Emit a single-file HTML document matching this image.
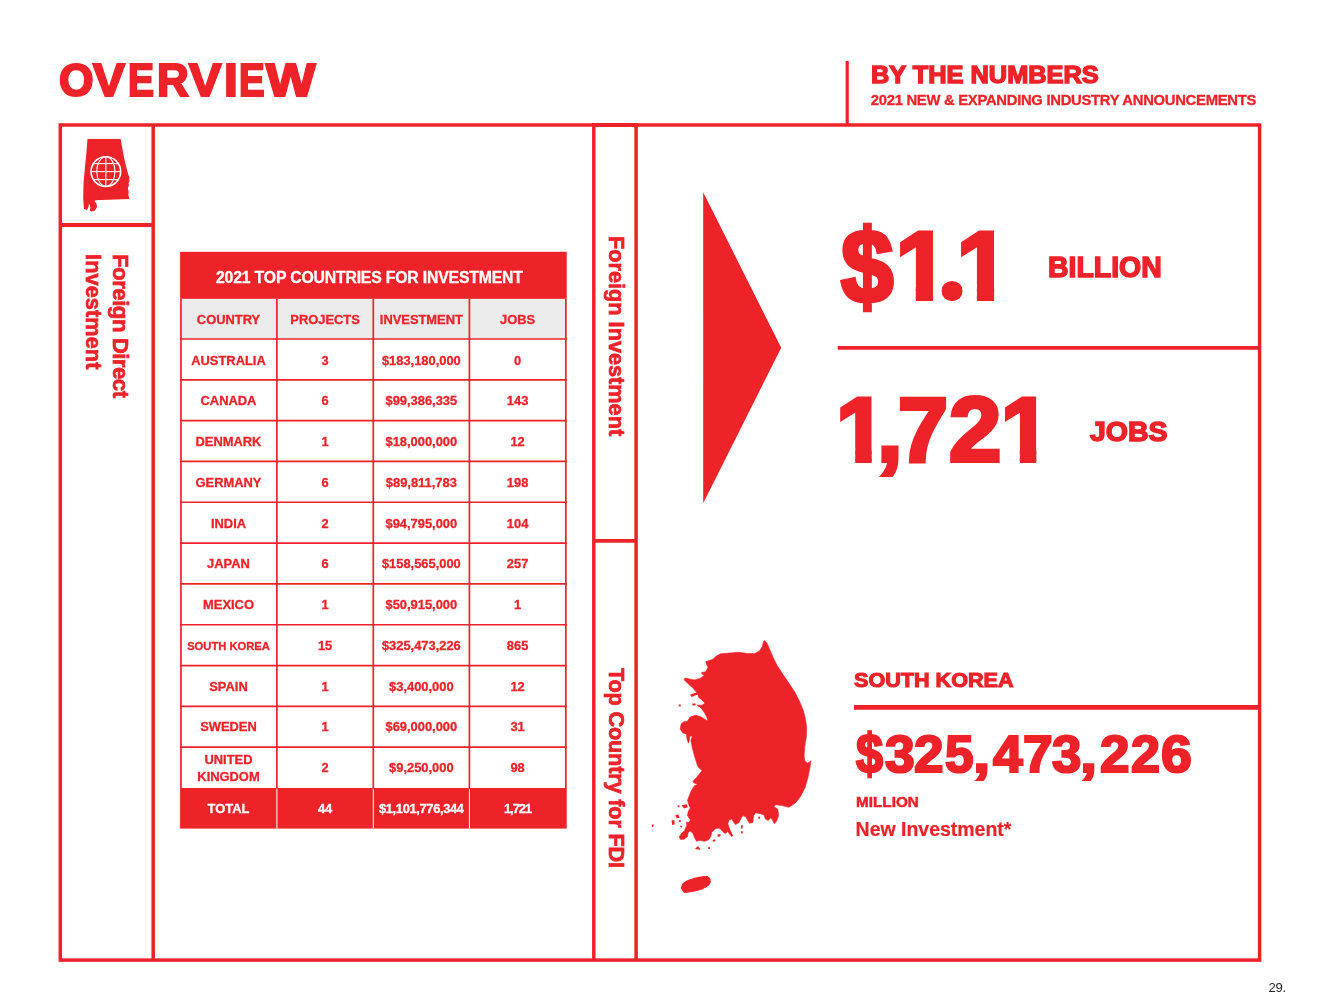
<!DOCTYPE html>
<html lang="en"><head><meta charset="utf-8"><title>Overview - By the Numbers</title>
<style>
html,body{margin:0;padding:0;background:#fff;}
body{width:1320px;height:1007px;position:relative;overflow:hidden;font-family:"Liberation Sans",sans-serif;}
.t{position:absolute;white-space:nowrap;line-height:1;font-family:"Liberation Sans",sans-serif;font-weight:700;margin:0;padding:0;}
svg{position:absolute;left:0;top:0;}
.gw{position:absolute;left:0;width:0;height:0;white-space:nowrap;line-height:1;font-weight:700;color:#ee2229;}
.gw span{position:absolute;top:0;display:block;line-height:1;transform-origin:0 0;}
</style></head><body>

<svg width="1320" height="1007" viewBox="0 0 1320 1007">
<g fill="none" stroke="#ee2229" stroke-width="3.5" stroke-linecap="butt">
<rect x="60.3" y="125" width="1199.3" height="835.1"/>
<line x1="153.2" y1="125" x2="153.2" y2="960"/>
<line x1="593.8" y1="125" x2="593.8" y2="960"/>
<line x1="636.1" y1="125" x2="636.1" y2="960"/>
<line x1="60" y1="224.95" x2="153" y2="224.95" stroke-width="4"/>
<line x1="593.8" y1="540.8" x2="636.1" y2="540.8" stroke-width="3.8"/>
<line x1="592" y1="125" x2="638" y2="125" stroke-width="4"/>
</g>
<g fill="none" stroke="#ee2229">
<line x1="847.2" y1="61" x2="847.2" y2="125" stroke-width="3.2"/>
<line x1="837.7" y1="347.95" x2="1259" y2="347.95" stroke-width="3.8"/>
<line x1="854" y1="707.4" x2="1259" y2="707.4" stroke-width="4.8"/>
</g>
<polygon fill="#ee2229" points="703.2,192.2 781.2,347.7 703.2,503.2"/>
<g fill="#ee2229">
<path stroke="#ee2229" stroke-width="0.6" stroke-linejoin="round" d="M764.1,640.4 L766.8,642.7 L769.1,647.9 L772.8,656.8 L777.3,665.8 L783.2,674.7 L789.2,683.6 L795.1,692.6 L799.6,701.5 L803.3,710.4 L805.6,719.4 L806.7,728.3 L806.3,737.3 L804.8,746.2 L804.1,755.1 L804.8,761.1 L807.8,763.3 L810.8,760.8 L809.9,768.3 L807.8,778.1 L805.0,787.8 L800.8,796.1 L796.0,802.4 L789.0,807.3 L782.1,805.6 L775.8,804.8 L773.7,806.6 L777.9,809.3 L778.6,815.6 L776.5,821.2 L774.4,823.7 L772.3,819.8 L770.9,817.7 L768.2,820.5 L765.4,819.1 L764.0,814.9 L759.8,813.5 L755.6,812.8 L753.6,815.6 L752.9,822.6 L749.4,823.2 L747.3,819.8 L745.9,817.0 L743.1,815.6 L741.0,818.4 L739.0,822.6 L735.5,824.6 L733.4,821.9 L732.0,819.1 L729.2,819.8 L727.8,823.9 L729.9,829.5 L732.7,835.8 L731.3,836.5 L727.8,831.6 L725.1,833.7 L722.3,830.9 L719.5,828.1 L715.3,828.8 L711.9,832.3 L710.5,837.1 L708.4,839.9 L704.2,841.3 L700.0,840.3 L696.6,841.3 L694.5,837.8 L693.1,833.7 L690.3,830.9 L688.2,832.3 L687.5,836.5 L684.1,839.2 L680.6,839.5 L679.2,837.1 L681.3,833.7 L684.8,830.2 L686.8,825.3 L686.4,821.9 L688.9,822.6 L690.3,819.8 L687.5,815.6 L688.2,811.4 L690.3,808.0 L688.9,805.2 L687.5,800.3 L689.6,794.8 L691.7,789.9 L694.5,785.7 L698.0,784.3 L693.8,782.9 L693.1,780.9 L696.6,777.4 L700.0,773.2 L702.1,770.4 L698.7,767.6 L697.3,764.9 L694.6,756.6 L692.3,747.7 L690.9,740.2 L692.3,736.5 L690.1,735.8 L688.6,743.2 L687.1,739.5 L686.4,734.3 L682.7,732.8 L680.1,729.1 L681.2,723.8 L684.2,721.6 L687.1,721.6 L690.1,717.1 L695.3,715.2 L700.5,716.4 L705.0,719.4 L708.0,720.9 L706.5,716.4 L704.0,711.9 L700.5,707.5 L698.3,705.2 L702.0,705.2 L705.0,703.0 L702.0,700.0 L699.0,697.8 L696.8,692.6 L692.3,687.4 L687.9,683.6 L684.2,679.9 L684.9,678.0 L689.4,678.9 L694.6,679.9 L699.8,678.4 L704.3,675.4 L702.0,673.9 L701.6,672.5 L705.8,671.7 L708.0,667.2 L706.5,664.3 L705.8,661.6 L709.5,660.5 L713.2,659.0 L716.2,656.1 L720.6,653.8 L729.6,653.1 L738.5,652.3 L747.5,653.5 L754.9,653.5 L759.4,650.9 L762.4,646.4 L763.1,642.7Z"/>
<path d="M681.3,805.2 L686.8,804.2 L687.8,807.3 L684.1,808.4Z"/>
<path d="M677.5,805.6 L679.5,805.3 L679.2,807.3 L677.8,807.3Z"/>
<path d="M675.4,814.9 L678.5,814.5 L679.5,817.7 L676.7,818.4Z"/>
<path d="M671.5,820.5 L674.3,820.1 L674.7,824.6 L672.2,825.1Z"/>
<path d="M678.8,820.1 L680.9,820.3 L680.6,822.3 L678.9,822.0Z"/>
<path d="M680.3,825.6 L682.2,825.9 L682.0,827.6 L680.4,827.3Z"/>
<path d="M651.9,824.6 L653.6,824.2 L653.3,826.7 L652.1,827.0Z"/>
<path d="M694.8,849.0 L698.0,845.9 L700.7,849.7Z"/>
<path d="M708.1,847.3 L710.1,847.0 L709.8,849.0 L708.2,849.0Z"/>
<path d="M712.6,839.9 L715.6,839.2 L715.3,841.3 L712.8,841.7Z"/>
<path d="M717.4,834.4 L720.6,834.0 L720.3,836.5 L717.7,836.7Z"/>
<path d="M740.9,825.3 L742.6,825.3 L742.6,828.4 L741.0,828.4Z"/>
<path d="M741.0,831.2 L742.7,831.2 L742.6,833.4 L741.2,833.4Z"/>
<path d="M758.1,816.7 L760.1,816.7 L760.1,818.7 L758.3,818.7Z"/>
<path d="M690.1,694.8 L696.8,692.3 L697.6,694.4 L691.6,697.0Z"/>
<path d="M678.6,704.5 L680.7,704.5 L680.7,706.6 L678.8,706.6Z"/>
<path d="M692.3,703.7 L695.3,703.3 L695.6,705.2 L692.6,705.7Z"/>
<path d="M696.5,704.5 L699.8,705.2 L702.0,707.5 L698.3,706.7Z"/>
<path stroke="#ee2229" stroke-width="1.2" stroke-linejoin="round" d="M681.3,887.9 L683.1,883.7 L687.5,880.7 L694.5,878.4 L702.1,876.8 L707.0,876.5 L709.8,878.8 L710.1,882.3 L707.7,885.8 L702.8,888.6 L695.9,890.7 L688.9,891.8 L684.1,892.3Z"/>
</g>
<path fill="#ee2229" d="M87.5,138.9 L120.6,138.9 L121.9,146.1 L123.7,155.9 L125.5,164.0 L127.3,171.1 L128.6,175.6 L129.5,177.4 L129.1,179.6 L129.7,181.0 L128.6,182.7 L128.9,185.4 L127.9,188.1 L128.6,191.7 L128.5,195.3 L129.4,199.0 L95.1,200.2 L94.7,201.5 L96.5,203.8 L97.1,206.4 L96.0,209.1 L94.2,210.9 L91.5,211.5 L89.8,210.5 L90.4,207.8 L89.8,204.7 L88.9,204.2 L88.2,207.8 L87.1,210.0 L83.9,209.1 L83.2,197.9 L83.5,183.6 L84.8,168.4 L86.2,155.0Z"/>
<g fill="none" stroke="#fff" stroke-width="1.1">
<circle cx="105.85" cy="171.6" r="14.8" stroke-width="1.6"/>
<ellipse cx="105.85" cy="171.6" rx="9.1" ry="14.8"/>
<line x1="105.85" y1="156.79999999999998" x2="105.85" y2="186.4"/>
<line x1="91.05" y1="171.6" x2="120.64999999999999" y2="171.6"/>
<line x1="93.44999999999999" y1="163.6" x2="118.25" y2="163.6"/>
<line x1="93.44999999999999" y1="179.6" x2="118.25" y2="179.6"/>
</g>
</svg>
<div class="t" id="btn" style="font-size:23.84px;letter-spacing:0.000px;color:#ee2229;font-weight:700;-webkit-text-stroke:1.4px #ee2229;left:871.26px;top:62.72px;transform:scaleX(1.0640);transform-origin:0 0;">BY THE NUMBERS</div>
<div class="t" id="sub" style="font-size:14.83px;letter-spacing:-0.295px;color:#ee2229;font-weight:700;-webkit-text-stroke:0.3px #ee2229;left:870.80px;top:92.70px;">2021 NEW &amp; EXPANDING INDUSTRY ANNOUNCEMENTS</div>
<div class="t" id="bil" style="font-size:28.78px;letter-spacing:0.000px;color:#ee2229;font-weight:700;-webkit-text-stroke:1.5px #ee2229;left:1047.99px;top:252.64px;transform:scaleX(0.9879);transform-origin:0 0;">BILLION</div>
<div class="t" id="job" style="font-size:28.49px;letter-spacing:0.000px;color:#ee2229;font-weight:700;-webkit-text-stroke:1.5px #ee2229;left:1089.60px;top:416.63px;transform:scaleX(1.0003);transform-origin:0 0;">JOBS</div>
<div class="t" id="sk" style="font-size:20.64px;letter-spacing:0.000px;color:#ee2229;font-weight:700;-webkit-text-stroke:1.1px #ee2229;left:853.67px;top:669.78px;transform:scaleX(1.0471);transform-origin:0 0;">SOUTH KOREA</div>
<div class="t" id="mil" style="font-size:14.10px;letter-spacing:0.000px;color:#ee2229;font-weight:700;-webkit-text-stroke:0.5px #ee2229;left:856.46px;top:794.57px;transform:scaleX(1.0862);transform-origin:0 0;">MILLION</div>
<div class="t" id="ni" style="font-size:19.48px;letter-spacing:0.000px;color:#ee2229;font-weight:700;-webkit-text-stroke:0.2px #ee2229;left:855.60px;top:819.66px;">New Investment*</div>
<div class="t" id="pg" style="font-size:13.08px;letter-spacing:-0.350px;color:#231f20;font-weight:400;left:1268.60px;top:980.68px;">29.</div>
<div class="t" id="fd1" style="font-size:22.24px;letter-spacing:-0.508px;color:#ee2229;font-weight:700;-webkit-text-stroke:0.7px #ee2229;left:131.02px;top:254.20px;transform:rotate(90deg);transform-origin:0 0;">Foreign Direct</div>
<div class="t" id="fd2" style="font-size:21.66px;letter-spacing:0.122px;color:#ee2229;font-weight:700;-webkit-text-stroke:0.7px #ee2229;left:103.53px;top:254.20px;transform:rotate(90deg);transform-origin:0 0;">Investment</div>
<div class="t" id="fi" style="font-size:21.66px;letter-spacing:0.024px;color:#ee2229;font-weight:700;-webkit-text-stroke:0.7px #ee2229;left:627.18px;top:236.20px;transform:rotate(90deg);transform-origin:0 0;">Foreign Investment</div>
<div class="t" id="tc" style="font-size:21.66px;letter-spacing:-0.156px;color:#ee2229;font-weight:700;-webkit-text-stroke:0.7px #ee2229;left:627.18px;top:667.60px;transform:rotate(90deg);transform-origin:0 0;">Top Country for FDI</div>
<div class="gw" id="ov" style="font-size:45.93px;top:57.92px;-webkit-text-stroke:2.2px #ee2229;">
<span id="ov_0" style="left:58.56px;transform:scale(0.9669,1.0000);transform-origin:0 38.88px;">O</span><span id="ov_1" style="left:92.80px;transform:scale(1.0395,1.0000);transform-origin:0 38.88px;">V</span><span id="ov_2" style="left:128.20px;transform:scale(0.8481,1.0000);transform-origin:0 38.88px;">E</span><span id="ov_3" style="left:156.64px;transform:scale(0.9551,1.0000);transform-origin:0 38.88px;">R</span><span id="ov_4" style="left:188.75px;transform:scale(1.0545,1.0000);transform-origin:0 38.88px;">V</span><span id="ov_5" style="left:224.42px;transform:scale(1.0826,1.0000);transform-origin:0 38.88px;">I</span><span id="ov_6" style="left:238.83px;transform:scale(0.8369,1.0000);transform-origin:0 38.88px;">E</span><span id="ov_7" style="left:266.05px;transform:scale(1.1401,1.0000);transform-origin:0 38.88px;">W</span>
</div>
<div class="gw" id="n11" style="font-size:96.08px;top:217.57px;-webkit-text-stroke:4px #ee2229;">
<span id="n11_0" style="left:840.99px;transform:scale(0.9793,1.0800);transform-origin:0 49.24px;">$</span><span id="n11_1" style="left:895.39px;clip-path:polygon(-30px -30px,37.61px -30px,37.61px 126.1px,20.42px 126.1px,20.42px 67.02px,-30px 67.02px);">1</span><span id="n11_2" style="left:936.38px;transform:scale(1.2086,1.1570);transform-origin:0 81.33px;clip-path:ellipse(8.78px 8.78px at 13.30px 74.17px);">.</span><span id="n11_3" style="left:956.49px;clip-path:polygon(-30px -30px,37.61px -30px,37.61px 126.1px,20.42px 126.1px,20.42px 67.02px,-30px 67.02px);">1</span>
</div>
<div class="gw" id="n17" style="font-size:90.84px;top:384.50px;-webkit-text-stroke:4px #ee2229;">
<span id="n17_0" style="left:836.03px;clip-path:polygon(-30px -30px,35.67px -30px,35.67px 120.8px,19.20px 120.8px,19.20px 63.13px,-30px 63.13px);">1</span><span id="n17_1" style="left:876.64px;transform:scale(1.0154,1.0000);transform-origin:0 76.90px;">,</span><span id="n17_2" style="left:898.01px;transform:scale(0.9916,1.0000);transform-origin:0 76.90px;">7</span><span id="n17_3" style="left:949.48px;transform:scale(1.0360,1.0000);transform-origin:0 76.90px;">2</span><span id="n17_4" style="left:1000.63px;clip-path:polygon(-30px -30px,35.67px -30px,35.67px 120.8px,19.20px 120.8px,19.20px 63.13px,-30px 63.13px);">1</span>
</div>
<div class="gw" id="n32" style="font-size:51.60px;top:728.82px;-webkit-text-stroke:2.2px #ee2229;">
<span id="n32_0" style="left:855.93px;transform:scale(0.9435,1.0600);transform-origin:0 26.44px;">$</span><span id="n32_1" style="left:884.54px;transform:scale(1.0354,1.0000);transform-origin:0 43.68px;">3</span><span id="n32_2" style="left:914.29px;transform:scale(1.0280,1.0000);transform-origin:0 43.68px;">2</span><span id="n32_3" style="left:945.35px;transform:scale(0.9958,1.0000);transform-origin:0 43.68px;">5</span><span id="n32_4" style="left:973.42px;transform:scale(1.2010,1.0000);transform-origin:0 43.68px;">,</span><span id="n32_5" style="left:993.03px;transform:scale(1.0323,1.0000);transform-origin:0 43.68px;">4</span><span id="n32_6" style="left:1022.80px;transform:scale(1.0350,1.0000);transform-origin:0 43.68px;">7</span><span id="n32_7" style="left:1051.72px;transform:scale(1.0235,1.0000);transform-origin:0 43.68px;">3</span><span id="n32_8" style="left:1080.15px;transform:scale(1.1921,1.0000);transform-origin:0 43.68px;">,</span><span id="n32_9" style="left:1099.87px;transform:scale(1.0287,1.0000);transform-origin:0 43.68px;">2</span><span id="n32_10" style="left:1130.60px;transform:scale(1.0101,1.0000);transform-origin:0 43.68px;">2</span><span id="n32_11" style="left:1160.91px;transform:scale(1.0718,1.0000);transform-origin:0 43.68px;">6</span>
</div>
<style>
.c{position:absolute;display:flex;align-items:center;justify-content:center;text-align:center;font-weight:700;font-size:12.9px;line-height:1.25;color:#ee2229;white-space:nowrap;-webkit-text-stroke:0.3px #ee2229;}
.c.w{color:#fff;-webkit-text-stroke:0.3px #fff;}
</style>
<svg width="1320" height="1007" viewBox="0 0 1320 1007">
<rect x="180.1" y="251.8" width="386.6" height="47.1" fill="#ee2229"/>
<rect x="180.1" y="298.9" width="386.6" height="40.1" fill="#ebebec"/>
<rect x="180.1" y="788.0" width="386.6" height="40.6" fill="#ee2229"/>
<g stroke="#ee2229" stroke-width="1.7" fill="none">
<line x1="180.95" y1="298.9" x2="180.95" y2="788.0"/>
<line x1="276.90" y1="298.9" x2="276.90" y2="788.0"/>
<line x1="373.30" y1="298.9" x2="373.30" y2="788.0"/>
<line x1="469.40" y1="298.9" x2="469.40" y2="788.0"/>
<line x1="565.85" y1="298.9" x2="565.85" y2="788.0"/>
<line x1="180.1" y1="339.00" x2="566.7" y2="339.00"/>
<line x1="180.1" y1="379.82" x2="566.7" y2="379.82"/>
<line x1="180.1" y1="420.64" x2="566.7" y2="420.64"/>
<line x1="180.1" y1="461.45" x2="566.7" y2="461.45"/>
<line x1="180.1" y1="502.27" x2="566.7" y2="502.27"/>
<line x1="180.1" y1="543.09" x2="566.7" y2="543.09"/>
<line x1="180.1" y1="583.91" x2="566.7" y2="583.91"/>
<line x1="180.1" y1="624.73" x2="566.7" y2="624.73"/>
<line x1="180.1" y1="665.55" x2="566.7" y2="665.55"/>
<line x1="180.1" y1="706.36" x2="566.7" y2="706.36"/>
<line x1="180.1" y1="747.18" x2="566.7" y2="747.18"/>
</g>
<g stroke="#fff" stroke-width="1">
<line x1="276.90" y1="788.8" x2="276.90" y2="828.6"/>
<line x1="373.30" y1="788.8" x2="373.30" y2="828.6"/>
<line x1="469.40" y1="788.8" x2="469.40" y2="828.6"/>
</g>
</svg>
<div class="c w" style="left:176.10px;top:253.20px;width:386.60px;height:48.60px;font-size:15.8px;letter-spacing:-0.18px;">2021 TOP COUNTRIES FOR INVESTMENT</div>
<div class="c" style="left:180.10px;top:299.70px;width:96.80px;height:41.10px;">COUNTRY</div>
<div class="c" style="left:276.90px;top:299.70px;width:96.40px;height:41.10px;">PROJECTS</div>
<div class="c" style="left:373.30px;top:299.70px;width:96.10px;height:41.10px;">INVESTMENT</div>
<div class="c" style="left:469.40px;top:299.70px;width:96.40px;height:41.10px;">JOBS</div>
<div class="c" style="left:180.10px;top:339.80px;width:96.80px;height:41.82px;">AUSTRALIA</div>
<div class="c" style="left:276.90px;top:339.80px;width:96.40px;height:41.82px;">3</div>
<div class="c" style="left:373.30px;top:339.80px;width:96.10px;height:41.82px;">$183,180,000</div>
<div class="c" style="left:469.40px;top:339.80px;width:96.40px;height:41.82px;">0</div>
<div class="c" style="left:180.10px;top:380.56px;width:96.80px;height:41.82px;">CANADA</div>
<div class="c" style="left:276.90px;top:380.56px;width:96.40px;height:41.82px;">6</div>
<div class="c" style="left:373.30px;top:380.56px;width:96.10px;height:41.82px;">$99,386,335</div>
<div class="c" style="left:469.40px;top:380.56px;width:96.40px;height:41.82px;">143</div>
<div class="c" style="left:180.10px;top:421.32px;width:96.80px;height:41.82px;">DENMARK</div>
<div class="c" style="left:276.90px;top:421.32px;width:96.40px;height:41.82px;">1</div>
<div class="c" style="left:373.30px;top:421.32px;width:96.10px;height:41.82px;">$18,000,000</div>
<div class="c" style="left:469.40px;top:421.32px;width:96.40px;height:41.82px;">12</div>
<div class="c" style="left:180.10px;top:462.07px;width:96.80px;height:41.82px;">GERMANY</div>
<div class="c" style="left:276.90px;top:462.07px;width:96.40px;height:41.82px;">6</div>
<div class="c" style="left:373.30px;top:462.07px;width:96.10px;height:41.82px;">$89,811,783</div>
<div class="c" style="left:469.40px;top:462.07px;width:96.40px;height:41.82px;">198</div>
<div class="c" style="left:180.10px;top:502.83px;width:96.80px;height:41.82px;">INDIA</div>
<div class="c" style="left:276.90px;top:502.83px;width:96.40px;height:41.82px;">2</div>
<div class="c" style="left:373.30px;top:502.83px;width:96.10px;height:41.82px;">$94,795,000</div>
<div class="c" style="left:469.40px;top:502.83px;width:96.40px;height:41.82px;">104</div>
<div class="c" style="left:180.10px;top:543.59px;width:96.80px;height:41.82px;">JAPAN</div>
<div class="c" style="left:276.90px;top:543.59px;width:96.40px;height:41.82px;">6</div>
<div class="c" style="left:373.30px;top:543.59px;width:96.10px;height:41.82px;">$158,565,000</div>
<div class="c" style="left:469.40px;top:543.59px;width:96.40px;height:41.82px;">257</div>
<div class="c" style="left:180.10px;top:584.35px;width:96.80px;height:41.82px;">MEXICO</div>
<div class="c" style="left:276.90px;top:584.35px;width:96.40px;height:41.82px;">1</div>
<div class="c" style="left:373.30px;top:584.35px;width:96.10px;height:41.82px;">$50,915,000</div>
<div class="c" style="left:469.40px;top:584.35px;width:96.40px;height:41.82px;">1</div>
<div class="c" style="left:180.10px;top:625.11px;width:96.80px;height:41.82px;font-size:11.2px;">SOUTH KOREA</div>
<div class="c" style="left:276.90px;top:625.11px;width:96.40px;height:41.82px;">15</div>
<div class="c" style="left:373.30px;top:625.11px;width:96.10px;height:41.82px;">$325,473,226</div>
<div class="c" style="left:469.40px;top:625.11px;width:96.40px;height:41.82px;">865</div>
<div class="c" style="left:180.10px;top:665.87px;width:96.80px;height:41.82px;">SPAIN</div>
<div class="c" style="left:276.90px;top:665.87px;width:96.40px;height:41.82px;">1</div>
<div class="c" style="left:373.30px;top:665.87px;width:96.10px;height:41.82px;">$3,400,000</div>
<div class="c" style="left:469.40px;top:665.87px;width:96.40px;height:41.82px;">12</div>
<div class="c" style="left:180.10px;top:706.62px;width:96.80px;height:41.82px;">SWEDEN</div>
<div class="c" style="left:276.90px;top:706.62px;width:96.40px;height:41.82px;">1</div>
<div class="c" style="left:373.30px;top:706.62px;width:96.10px;height:41.82px;">$69,000,000</div>
<div class="c" style="left:469.40px;top:706.62px;width:96.40px;height:41.82px;">31</div>
<div class="c" style="left:180.10px;top:747.38px;width:96.80px;height:41.82px;line-height:1.37;">UNITED<br>KINGDOM</div>
<div class="c" style="left:276.90px;top:747.38px;width:96.40px;height:41.82px;">2</div>
<div class="c" style="left:373.30px;top:747.38px;width:96.10px;height:41.82px;">$9,250,000</div>
<div class="c" style="left:469.40px;top:747.38px;width:96.40px;height:41.82px;">98</div>
<div class="c w" style="left:180.10px;top:788.20px;width:96.80px;height:41.60px;">TOTAL</div>
<div class="c w" style="left:276.90px;top:788.20px;width:96.40px;height:41.60px;">44</div>
<div class="c w" style="left:373.30px;top:788.20px;width:96.10px;height:41.60px;letter-spacing:-0.35px;">$1,101,776,344</div>
<div class="c w" style="left:469.40px;top:788.20px;width:96.40px;height:41.60px;letter-spacing:-1px;">1,721</div>
</body></html>
